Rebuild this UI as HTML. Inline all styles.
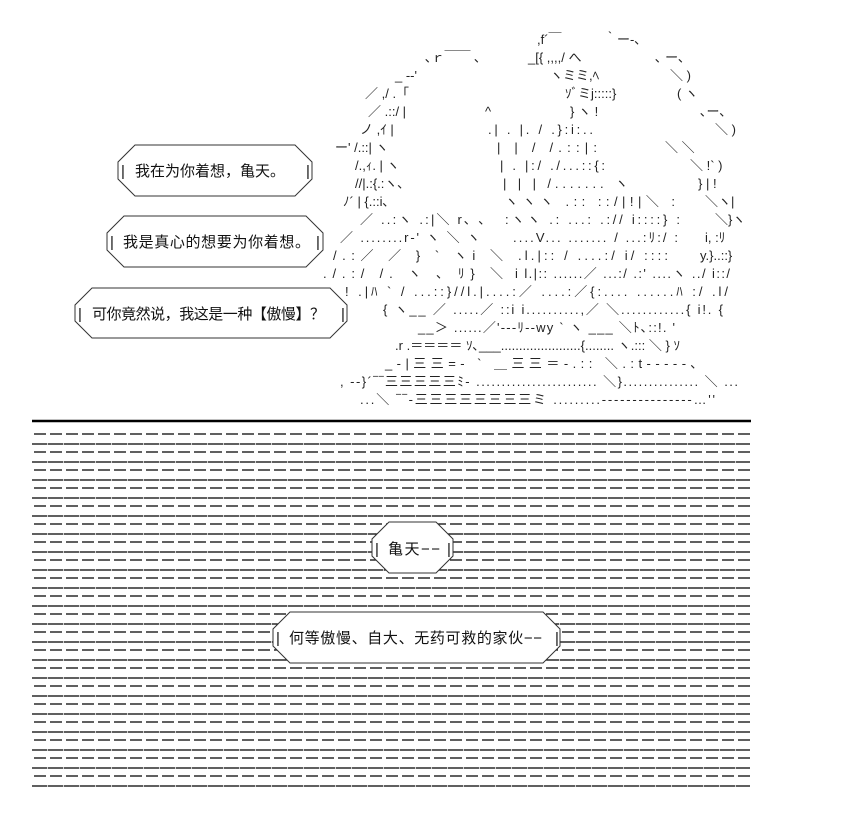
<!DOCTYPE html>
<html><head><meta charset="utf-8"><style>
html,body{margin:0;padding:0;background:#fff;width:851px;height:820px;overflow:hidden}
svg{position:absolute;left:0;top:0}
.a{font-family:"Liberation Sans","Noto Sans CJK JP",sans-serif;font-size:13px;fill:#222;white-space:pre}
.t{font-family:"Liberation Sans","Noto Sans CJK SC",sans-serif;font-size:15px;fill:#111;white-space:pre}
</style></head><body>
<svg width="851" height="820" viewBox="0 0 851 820" xmlns="http://www.w3.org/2000/svg" xml:space="preserve">
<g class="a">
<text x="537" y="44">,f´￣</text><text x="604" y="44">｀ー-､</text>
<text x="425" y="62">､ｒ￣￣ ､</text><text x="528" y="62">_[{ ,,,,/ へ</text><text x="655" y="62">､ ー､</text>
<text x="395" y="80">_ -‐'</text><text x="550" y="80">ヽミミ,ﾍ</text><text x="670" y="80">＼ )</text>
<text x="365" y="98">／ ,/  .「</text><text x="565" y="98">ｿﾞミj:::::}</text><text x="677" y="98">(  ヽ</text>
<text x="368" y="116">／ .::/  |</text><text x="485" y="116">^</text><text x="570" y="116">}   ヽ !</text><text x="700" y="116">､ー､</text>
<text x="360" y="134">ノ ,ｲ   |</text><text x="488" y="134" textLength="105">.|   . |.    /    .}:i:..</text><text x="715" y="134">＼ )</text>
<text x="335" y="152">ー'  /.::|     ヽ</text><text x="497" y="152" textLength="100">|      |    /     /.::|:</text><text x="665" y="152">＼    ＼</text>
<text x="355" y="170">/.,ｨ. |       ヽ</text><text x="500" y="170" textLength="105">|    . |:/    ./...::{:</text><text x="690" y="170">＼  !` )</text>
<text x="355" y="188">//|.:{.:ヽ､</text><text x="503" y="188" textLength="125">|   |   |     /.......   ヽ</text><text x="698" y="188">}   |  !</text>
<text x="343" y="206">ﾉ´ | {.::i､</text><text x="505" y="206" textLength="170">ヽヽヽ    .:: ::/|!|＼    :</text><text x="705" y="206">＼ヽ|</text>
<text x="360" y="224" textLength="125">／ ..:ヽ .:|＼ r､ ､</text><text x="505" y="224" textLength="175">:ヽヽ  .:  ...: .:// i::::}   :</text><text x="715" y="224">＼}ヽ</text>
<text x="340" y="242" textLength="140">／  ........r‐'   ヽ ＼ ヽ</text><text x="513" y="242" textLength="165">....V...  ....... / ...:ﾘ:/   :</text><text x="705" y="242">i,  :ﾘ</text>
<text x="333" y="260" textLength="170">/.:／ ／ }      ` ヽi ＼</text><text x="518" y="260" textLength="150">.l.|::     / ....:/ i/    ::::</text><text x="700" y="260">y.}..::}</text>
<text x="323" y="278" textLength="180">./.:/ /.    ヽ ､      ﾘ}    ＼</text><text x="515" y="278" textLength="215">i l.|:: ......／ ...:/ .:'   ....ヽ  ../ i::/</text>
<text x="345" y="296" textLength="383">!     .|ﾊ `         /    ...::}//l.|....:／ ....:／{:....   ......ﾊ :/  .l/</text>
<text x="383" y="314" textLength="340">{    ヽ__      ／   .....／ ::i i..........,／    ＼............{  i!.  {</text>
<text x="418" y="332" textLength="257">__＞ ......／'‐‐‐ﾘ‐‐wy ` ヽ ___    ＼ﾄ､::!. '</text>
<text x="395" y="350" textLength="285">.r   .＝＝＝＝ ｿ､___......................{........ ヽ.:::  ＼   } ｿ</text>
<text x="385" y="368" textLength="312">_-|三三=-            ` ＿三三＝-.::  ＼.:t‐‐‐‐‐､</text>
<text x="340" y="386" textLength="398">, ‐‐}´‾‾三三三三三ﾐ‐  ........................  ＼}...............   ＼    ...</text>
<text x="360" y="404" textLength="355">...＼       ‾‾‐三三三三三三三三ミ  .........‐‐‐‐‐‐‐‐‐‐‐‐‐‐‐…''</text>
</g>
<line x1="32" y1="421" x2="751" y2="421" stroke="#000" stroke-width="2.5"/>
<g stroke="#000" stroke-width="1.3" id="rows">
</g>
<script>
(function(){var g=document.getElementById('rows'),ns='http://www.w3.org/2000/svg';
for(var k=0;k<20;k++){var yd=434+18*k,ys=444+18*k;
var l=document.createElementNS(ns,'line');l.setAttribute('x1',34);l.setAttribute('x2',750);l.setAttribute('y1',yd);l.setAttribute('y2',yd);l.setAttribute('stroke-dasharray','12 4');g.appendChild(l);
var m=document.createElementNS(ns,'line');m.setAttribute('x1',32);m.setAttribute('x2',750);m.setAttribute('y1',ys);m.setAttribute('y2',ys);m.setAttribute('stroke-dasharray','15.3 0.7');g.appendChild(m);}})();
</script>
<g fill="#fff" stroke="#333" stroke-width="1">
<polygon points="135,145 295,145 312,162 312,179 295,196 135,196 118,179 118,162"/>
<polygon points="124,216 306,216 323,233 323,250 306,267 124,267 107,250 107,233"/>
<polygon points="92,288 330,288 347,305 347,321 330,338 92,338 75,321 75,305"/>
<polygon points="389,522 436,522 453,539 453,556 436,573 389,573 372,556 372,539"/>
<polygon points="290,612 543,612 560,629 560,646 543,663 290,663 273,646 273,629"/>
</g>
<g class="t">
<text x="121" y="176">|</text><text x="135" y="176" textLength="150">我在为你着想，亀天。</text><text x="306" y="176">|</text>
<text x="110" y="247">|</text><text x="123" y="247" textLength="187">我是真心的想要为你着想。</text><text x="316" y="247">|</text>
<text x="78" y="319">|</text><text x="92" y="319" textLength="233">可你竟然说，我这是一种【傲慢】？</text><text x="341" y="319">|</text>
<text x="375" y="554">|</text><text x="388" y="554" textLength="52">亀天−−</text><text x="447" y="554">|</text>
<text x="276" y="643">|</text><text x="289" y="643" textLength="253">何等傲慢、自大、无药可救的家伙−−</text><text x="555" y="643">|</text>
</g>
</svg>
</body></html>
